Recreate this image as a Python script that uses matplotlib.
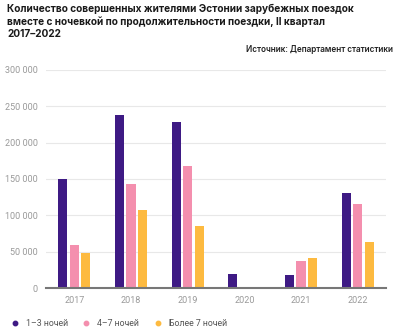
import matplotlib.pyplot as plt
import numpy as np

plt.rcParams['font.family'] = ['Inter', 'DejaVu Sans']

years = ['2017', '2018', '2019', '2020', '2021', '2022']
nights_1_3 = [150000, 238000, 229000, 19700, 18000, 130800]
nights_4_7 = [59000, 143500, 167500, 0, 37000, 115000]
nights_7_plus = [48600, 107000, 85000, 0, 41000, 63000]
labels = ['1–3 ночей', '4–7 ночей', 'Более 7 ночей']
colors = ['#3E1A84', '#F48FAE', '#FDBA40']

fig = plt.figure(figsize=(4, 3.33), dpi=100)
ax = fig.add_axes([0.115, 0.135, 0.85, 0.655])

x = np.arange(len(years))
w = 0.16
for i, (vals, lab, c) in enumerate(zip([nights_1_3, nights_4_7, nights_7_plus], labels, colors)):
    ax.bar(x + (i - 1) * 0.205, vals, width=w, color=c, label=lab, zorder=2)

ax.set_xlim(-0.5, len(years) - 0.5)
ax.set_ylim(0, 300000)
ax.set_yticks(range(0, 300001, 50000))
ax.set_yticklabels(['0' if v == 0 else f'{v // 1000} 000' for v in range(0, 300001, 50000)])
ax.set_xticks(x)
ax.set_xticklabels(years, family=['Roboto', 'DejaVu Sans'])
for t in ax.get_yticklabels():
    t.set_family(['Roboto', 'DejaVu Sans'])
ax.grid(axis='y', color='#e8e8e8', linewidth=0.8, zorder=0)
ax.tick_params(length=0, labelsize=6.5, labelcolor='#999999', pad=6)
for s in ['top', 'right', 'left']:
    ax.spines[s].set_visible(False)
ax.spines['bottom'].set_color('#777777')
ax.spines['bottom'].set_linewidth(1.5)
ax.spines['bottom'].set_zorder(3)

fig.text(0.018, 0.988, 'Количество совершенных жителями Эстонии зарубежных поездок\n'
         'вместе с ночевкой по продолжительности поездки, II квартал\n2017–2022',
         ha='left', va='top', fontsize=7.25, fontweight='bold', color='#1a1a1a', linespacing=1.25)
fig.text(0.982, 0.838, 'Источник: Департамент статистики', ha='right', va='bottom',
         fontsize=5.9, fontweight='semibold', color='#222222')

handles = [plt.Line2D([], [], marker='o', linestyle='', color=c, markersize=3.2) for c in colors]
fig.legend(handles, labels, loc='lower left', bbox_to_anchor=(0.007, -0.008), ncol=3, frameon=False,
           prop={'family': ['Roboto', 'DejaVu Sans'], 'size': 6.3}, handlelength=1.0,
           handletextpad=0.75, columnspacing=1.6, labelcolor='#555555')

fig.savefig('out.png', dpi=100)
